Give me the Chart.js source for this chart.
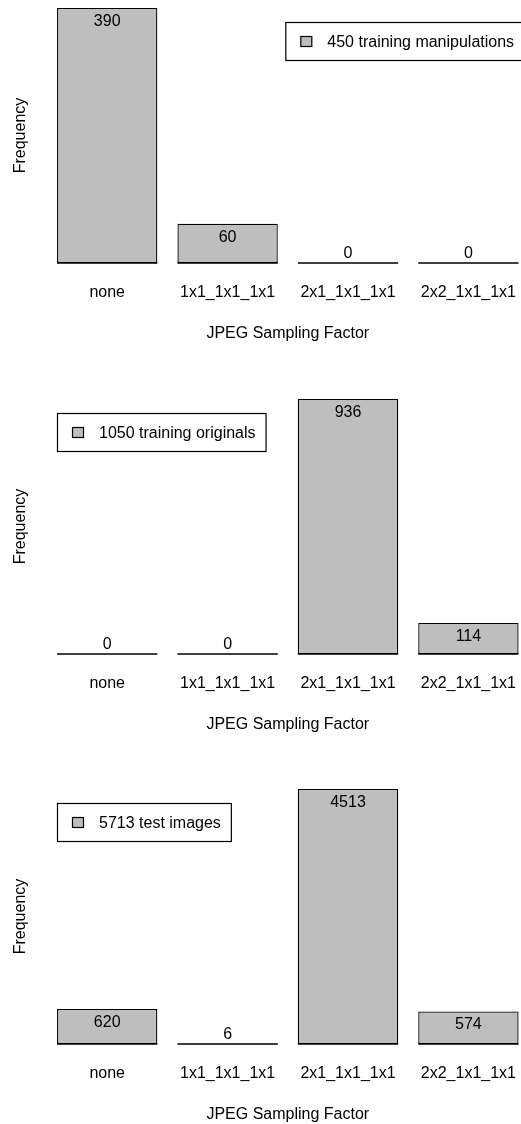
<!DOCTYPE html>
<html>
<head>
<meta charset="utf-8">
<script src="https://cdn.jsdelivr.net/npm/chart.js@4"></script>
<style>
  html, body { margin: 0; padding: 0; background: #fff; }
  body { width: 521px; height: 1124px; overflow: hidden; position: relative; }
  canvas { position: absolute; left: 0; }
</style>
</head>
<body>
<canvas id="c1" width="536" height="380" style="top:-12px"></canvas>
<canvas id="c2" width="536" height="380" style="top:379px"></canvas>
<canvas id="c3" width="536" height="380" style="top:769px"></canvas>
<script>
// data
var categories = ['none', '1x1_1x1_1x1', '2x1_1x1_1x1', '2x2_1x1_1x1'];
var trainManipulations = [390, 60, 0, 0];
var trainOriginals = [0, 0, 936, 114];
var testImages = [620, 6, 4513, 574];
var legendLabels = ['450 training manipulations', '1050 training originals', '5713 test images'];
var legendSides = ['right', 'left', 'left'];

var FONT = '"Liberation Sans", Arial, Helvetica, sans-serif';
var GREY = '#bebebe';

// zero bars still show a base line, labels sit inside tall bars or above short ones
var barExtras = {
    id: 'barExtras',
    afterDatasetsDraw: function (chart) {
        var ctx = chart.ctx;
        var meta = chart.getDatasetMeta(0);
        var data = chart.data.datasets[0].data;
        ctx.save();
        ctx.strokeStyle = '#000';
        ctx.lineWidth = 1.5;
        meta.data.forEach(function (bar, i) {
            ctx.beginPath();
            ctx.moveTo(bar.x - bar.width / 2, bar.base);
            ctx.lineTo(bar.x + bar.width / 2, bar.base);
            ctx.stroke();

            var y = Math.min(bar.y + 13.5, bar.base - 9.5);
            ctx.fillStyle = '#000';
            ctx.font = '16px ' + FONT;
            ctx.textAlign = 'center';
            ctx.textBaseline = 'middle';
            ctx.fillText(String(data[i]), bar.x, y);
        });
        ctx.restore();
    }
};

// R style boxed legend
var boxLegend = {
    id: 'boxLegend',
    afterDraw: function (chart, args, opts) {
        var ctx = chart.ctx;
        var area = chart.chartArea;
        ctx.save();
        ctx.font = '16px ' + FONT;
        var textW = ctx.measureText(opts.text).width;
        var w = 42 + textW + 10;
        var h = 38;
        var left = opts.side === 'left' ? area.left + 10 : area.right - 4.5 - w;
        var top = area.top + 14;
        ctx.lineWidth = 1.2;
        ctx.strokeStyle = '#000';
        ctx.strokeRect(left + 0.5, top + 0.5, w, h);
        ctx.fillStyle = GREY;
        ctx.fillRect(left + 15.5, top + 14.5, 11, 10);
        ctx.strokeRect(left + 15.5, top + 14.5, 11, 10);
        ctx.fillStyle = '#000';
        ctx.textAlign = 'left';
        ctx.textBaseline = 'middle';
        ctx.fillText(opts.text, left + 42, top + 20.5);
        ctx.restore();
    }
};

function makeChart(id, values, legendText, side) {
    var ctx = document.getElementById(id).getContext('2d');
    return new Chart(ctx, {
        type: 'bar',
        data: {
            labels: categories,
            datasets: [{
                data: values,
                backgroundColor: GREY,
                borderColor: '#000',
                borderWidth: 1.3,
                borderSkipped: false,
                categoryPercentage: 1,
                barPercentage: 100 / 120
            }]
        },
        plugins: [barExtras, boxLegend],
        options: {
            responsive: false,
            animation: false,
            devicePixelRatio: 1,
            layout: { autoPadding: false, padding: { top: 20, left: 0, right: 0, bottom: 0 } },
            plugins: {
                legend: { display: false },
                tooltip: { enabled: false },
                boxLegend: { text: legendText, side: side }
            },
            scales: {
                x: {
                    offset: true,
                    grid: { display: false, drawTicks: false },
                    border: { display: false },
                    ticks: { color: '#000', padding: 20, font: { family: FONT, size: 16 }, maxRotation: 0, autoSkip: false },
                    title: {
                        display: true,
                        text: 'JPEG Sampling Factor',
                        color: '#000',
                        font: { family: FONT, size: 16 },
                        padding: { top: 2, bottom: 24.6 }
                    }
                },
                y: {
                    min: 0,
                    max: Math.max.apply(null, values),
                    grid: { display: false, drawTicks: false },
                    border: { display: false },
                    ticks: { display: false },
                    title: {
                        display: true,
                        text: 'Frequency',
                        color: '#000',
                        font: { family: FONT, size: 16 },
                        padding: { top: 11.4, bottom: 16.4 }
                    }
                }
            }
        }
    });
}

makeChart('c1', trainManipulations, legendLabels[0], legendSides[0]);
makeChart('c2', trainOriginals, legendLabels[1], legendSides[1]);
makeChart('c3', testImages, legendLabels[2], legendSides[2]);
</script>
</body>
</html>
